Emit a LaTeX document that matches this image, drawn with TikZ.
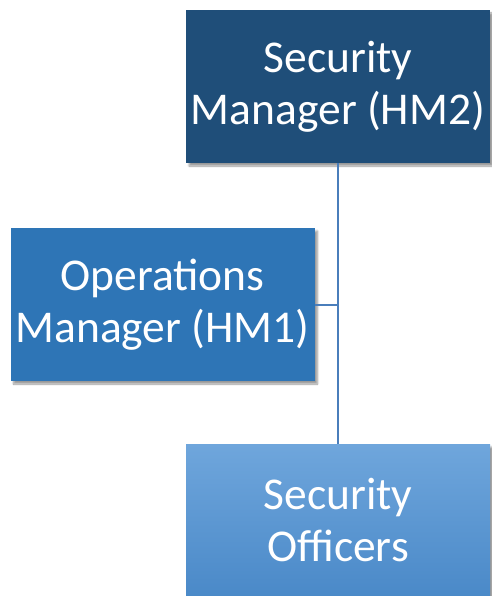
\documentclass[tikz,border=0pt]{standalone}
\usepackage{fontspec}
\setmainfont{Carlito}
\usetikzlibrary{shadows.blur}
\definecolor{darkbox}{HTML}{1F4E79}
\definecolor{midbox}{HTML}{2E75B6}
\definecolor{lighttop}{HTML}{6FA6DC}
\definecolor{lightbot}{HTML}{4A89C8}
\definecolor{linkblue}{HTML}{4A7EBB}
\begin{document}
\begin{tikzpicture}[x=1pt,y=-1pt,
  orgbox/.style={minimum width=304pt,minimum height=153pt,inner sep=0pt,
    text=white,align=center,font=\fontsize{45.5}{52}\selectfont,
    blur shadow={shadow xshift=3pt,shadow yshift=-3pt,shadow blur steps=6,shadow opacity=40}},
  link/.style={draw=linkblue,line width=2pt}]
\useasboundingbox (0,0) rectangle (491,596);
\node[orgbox,fill=darkbox] (hm2) at (338,86.5) {Security\\Manager (HM2)};
\node[orgbox,fill=midbox] (hm1) at (162.5,304.5) {Operations\\Manager (HM1)};
\node[orgbox,top color=lighttop,bottom color=lightbot] (off) at (338,520.5) {Security\\Officers};
\draw[link] (hm2.south) -- (off.north);
\draw[link] (hm1.east) -- (hm1.east -| hm2.south);
\end{tikzpicture}
\end{document}
